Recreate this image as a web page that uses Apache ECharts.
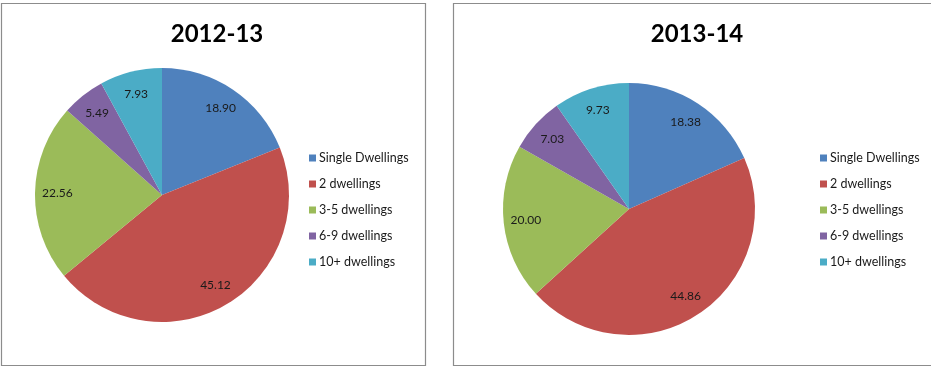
<!DOCTYPE html>
<html><head><meta charset="utf-8">
<script src="https://cdn.jsdelivr.net/npm/echarts@6/dist/echarts.min.js"></script>
<style>html,body{margin:0;padding:0;background:#fff}#c{width:931px;height:368px}</style>
</head><body><div id="c"></div>
<script>
const categories = ['Single Dwellings','2 dwellings','3-5 dwellings','6-9 dwellings','10+ dwellings'];
const values2012 = [18.90, 45.12, 22.56, 5.49, 7.93];
const values2013 = [18.38, 44.86, 20.00, 7.03, 9.73];
const titles = ['2012-13','2013-14'];
const colors = ['#4F81BD','#C0504D','#9BBB59','#8064A2','#4BACC6'];
const FONT = 'Lato, "Open Sans", sans-serif';

function mk(vals){ return categories.map((n,i)=>({name:n, value:vals[i]})); }

function pieSeries(vals, center, r){
  return [
    {type:'pie', center:center, radius:[0,r], startAngle:90, clockwise:true,
     silent:true, label:{show:false}, labelLine:{show:false},
     itemStyle:{borderWidth:0}, data:mk(vals)},
    {type:'pie', center:center, radius:[r*0.6,r], startAngle:90, clockwise:true,
     silent:true, itemStyle:{color:'rgba(0,0,0,0)'}, legendHoverLink:false,
     label:{show:true, position:'inside', color:'#1a1a1a', fontSize:12, fontFamily:FONT,
       formatter:p=>p.value.toFixed(2)},
     labelLine:{show:false}, data:mk(vals)}
  ];
}

const chart = echarts.init(document.getElementById('c'), null, {renderer:'canvas'});
chart.setOption({
  animation:false,
  color:colors,
  graphic:[
    {type:'rect', shape:{x:1.5,y:3.5,width:424,height:362}, style:{fill:'none',stroke:'#8c8c8c',lineWidth:1.2}},
    {type:'rect', shape:{x:453.5,y:3.5,width:490,height:362}, style:{fill:'none',stroke:'#8c8c8c',lineWidth:1.2}}
  ],
  title:[
    {text:titles[0], left:212, top:17, textAlign:'center', textStyle:{fontFamily:FONT,fontWeight:'bold',fontSize:24,color:'#000'}},
    {text:titles[1], left:692, top:17, textAlign:'center', textStyle:{fontFamily:FONT,fontWeight:'bold',fontSize:24,color:'#000'}}
  ],
  legend:[
    {orient:'vertical', left:304, top:146, itemWidth:7, itemHeight:7, itemGap:12, icon:'rect',
     data:categories, selectedMode:false,
     textStyle:{fontFamily:FONT,fontSize:12.5,color:'#1a1a1a',lineHeight:14,padding:[0,0,0,-2]}},
    {orient:'vertical', left:815, top:146, itemWidth:7, itemHeight:7, itemGap:12, icon:'rect',
     data:categories, selectedMode:false,
     textStyle:{fontFamily:FONT,fontSize:12.5,color:'#1a1a1a',lineHeight:14,padding:[0,0,0,-2]}}
  ],
  series:[...pieSeries(values2012,[162,195],127), ...pieSeries(values2013,[629,209],126)]
});
</script></body></html>
